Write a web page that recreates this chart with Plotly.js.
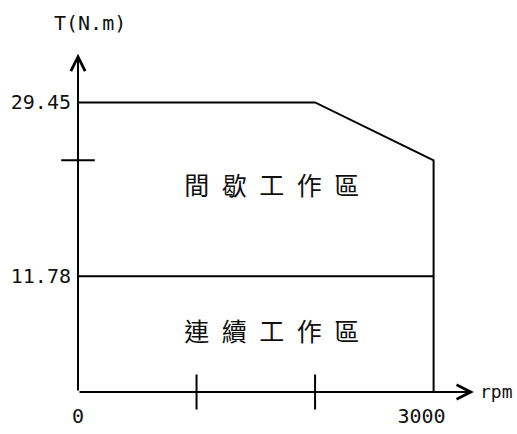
<!DOCTYPE html>
<html>
<head>
<meta charset="utf-8">
<script src="https://cdn.plot.ly/plotly-3.0.1.min.js"></script>
<style>body{margin:0;background:#fff}</style>
</head>
<body>
<div id="plot" style="width:517px;height:434px"></div>
<script>
// speed in rpm, torque in N.m
var peakSpeed = [0, 2000, 3000, 3000];
var peakTorque = [29.45, 29.45, 23.56, 0];
var ratedSpeed = [0, 3000];
var ratedTorque = [11.78, 11.78];
var xTickVals = [0, 3000];
var xTickText = ['0', '3000'];
var yTickVals = [11.78, 29.45];
var yTickText = ['11.78', '29.45'];
var xMarks = [1000, 2000];
var yMarks = [23.56];
var zoneLabels = ['間\u2002歇\u2002工\u2002作\u2002區', '連\u2002續\u2002工\u2002作\u2002區'];
var zoneTorque = [20.7, 5.8];
var zoneSpeed = [1635, 1635];
var axisEnd = [3340, 34.4];

function makePlot() {
  var ink = '#000';
  var mono = 'DejaVu Sans Mono, Liberation Mono, monospace';

  var peak = {
    x: peakSpeed, y: peakTorque,
    mode: 'lines', type: 'scatter',
    line: {color: ink, width: 2},
    cliponaxis: false
  };
  var rated = {
    x: ratedSpeed, y: ratedTorque,
    mode: 'lines', type: 'scatter',
    line: {color: ink, width: 2},
    cliponaxis: false
  };
  var xTicks = {
    x: xMarks, y: xMarks.map(function () { return 0; }),
    mode: 'markers', type: 'scatter',
    marker: {symbol: 'line-ns-open', size: 25, color: ink, line: {color: ink, width: 2}},
    cliponaxis: false
  };
  var yTicks = {
    x: yMarks.map(function () { return 0; }), y: yMarks,
    mode: 'markers', type: 'scatter',
    marker: {symbol: 'line-ew-open', size: 24, color: ink, line: {color: ink, width: 2}},
    cliponaxis: false
  };
  var zones = {
    x: zoneSpeed, y: zoneTorque,
    mode: 'text', type: 'scatter',
    text: zoneLabels,
    textposition: 'middle center',
    textfont: {family: 'Noto Sans CJK TC, Noto Sans CJK SC, sans-serif', size: 25, color: '#111'},
    cliponaxis: false
  };

  var data = [peak, rated, xTicks, yTicks, zones];

  // the 3000 label sits a little left of its tick in the original
  var xLabels = xTickText.map(function (t, i) {
    return i === xTickText.length - 1 ? t + '\u2002\u2002' : t;
  });

  var layout = {
    width: 517,
    height: 434,
    showlegend: false,
    paper_bgcolor: '#fff',
    plot_bgcolor: '#fff',
    margin: {l: 78, r: 35.5, t: 37.5, b: 42, pad: 0},
    xaxis: {
      range: [0, 3400],
      showgrid: false, zeroline: false, showline: false,
      ticks: '',
      ticklabelstandoff: 10,
      tickvals: xTickVals, ticktext: xLabels,
      tickfont: {family: mono, size: 20, color: '#111'}
    },
    yaxis: {
      range: [0, 36],
      showgrid: false, zeroline: false, showline: false,
      ticks: '',
      ticklabelstandoff: 6,
      tickvals: yTickVals, ticktext: yTickText,
      tickfont: {family: mono, size: 20, color: '#111'}
    },
    annotations: [
      {
        x: axisEnd[0], y: 0, ax: 0, ay: 0, axref: 'x', ayref: 'y',
        text: '', showarrow: true, arrowhead: 5, arrowsize: 1.4, arrowwidth: 2, arrowcolor: ink
      },
      {
        x: 0, y: axisEnd[1], ax: 0, ay: 0, axref: 'x', ayref: 'y',
        text: '', showarrow: true, arrowhead: 5, arrowsize: 1.4, arrowwidth: 2, arrowcolor: ink
      },
      {
        x: 0, y: axisEnd[1], text: 'T(N.m)', showarrow: false,
        xanchor: 'center', yanchor: 'middle', xshift: 12, yshift: 31,
        font: {family: mono, size: 20, color: '#111'}
      },
      {
        x: axisEnd[0], y: 0, text: 'rpm', showarrow: false,
        xanchor: 'left', yanchor: 'middle', xshift: 4, yshift: 1,
        font: {family: mono, size: 18, color: '#111'}
      }
    ]
  };

  Plotly.newPlot('plot', data, layout, {displayModeBar: false, staticPlot: true});
}

makePlot();
</script>
</body>
</html>
